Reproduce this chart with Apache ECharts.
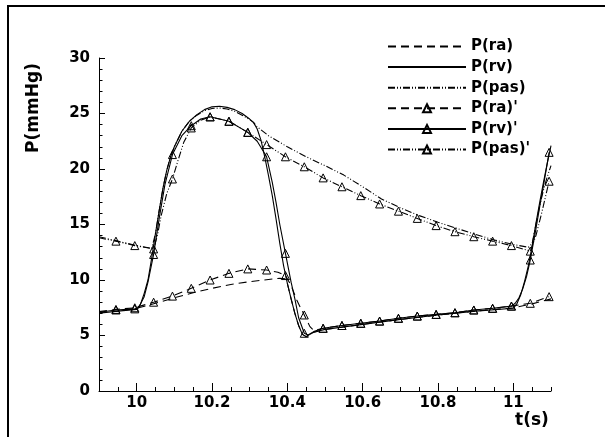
<!DOCTYPE html>
<html><head><meta charset="utf-8">
<script src="https://cdn.jsdelivr.net/npm/echarts@6/dist/echarts.min.js"></script>
<style>html,body{margin:0;padding:0;background:#fff}#c{width:605px;height:437px}</style>
</head><body><div id="c"></div>
<script>
// ---- data ----
const xTickLabels = [10, 10.2, 10.4, 10.6, 10.8, 11];
const seriesNames = ['P(ra)', 'P(rv)', 'P(pas)', "P(ra)'", "P(rv)'", "P(pas)'"];
// output times at which the primed (model) curves carry a triangle marker
const markerTimes = [9.945, 9.995, 10.045, 10.095, 10.145, 10.195, 10.245, 10.295, 10.345, 10.395,
  10.445, 10.495, 10.545, 10.595, 10.645, 10.695, 10.745, 10.795, 10.845, 10.895, 10.945, 10.995, 11.045, 11.095];

const ra = [[9.9,7.05],[9.95,7.2],[10.0,7.45],[10.05,7.9],[10.1,8.4],[10.15,8.85],[10.2,9.25],[10.25,9.6],
  [10.3,9.85],[10.35,10.05],[10.38,10.15],[10.395,10.1],[10.4,9.7],[10.41,8.3],[10.42,7.0],[10.43,5.9],
  [10.44,5.1],[10.45,4.9],[10.46,5.1],[10.47,5.3],[10.5,5.55],[10.6,6.0],[10.7,6.45],[10.8,6.85],
  [10.9,7.2],[11.0,7.5],[11.05,7.85],[11.1,8.3]];

const rv = [[9.9,7.0],[9.95,7.2],[10.0,7.35],[10.01,7.8],[10.02,8.8],[10.03,10.0],[10.04,12.0],[10.05,14.2],
  [10.06,16.3],[10.07,18.3],[10.08,19.9],[10.09,21.1],[10.1,22.0],[10.12,23.4],[10.14,24.3],[10.16,24.9],
  [10.18,25.35],[10.2,25.6],[10.22,25.65],[10.24,25.55],[10.26,25.35],[10.28,25.0],[10.3,24.5],[10.31,24.2],
  [10.32,23.6],[10.33,22.6],[10.34,21.1],[10.35,19.4],[10.36,17.6],[10.37,15.5],[10.38,13.3],[10.39,11.3],
  [10.4,9.7],[10.41,8.3],[10.42,7.0],[10.43,5.9],[10.44,5.1],[10.45,4.9],[10.46,5.1],[10.47,5.3],
  [10.5,5.55],[10.6,6.0],[10.7,6.45],[10.8,6.85],[10.9,7.2],[11.0,7.45],[11.01,7.9],[11.02,8.7],
  [11.03,9.9],[11.04,11.3],[11.05,13.1],[11.06,15.1],[11.07,17.0],[11.08,18.8],[11.09,20.5],[11.1,22.1]];

const pas = [[9.9,13.9],[9.95,13.5],[10.0,13.1],[10.04,12.85],[10.045,12.95],[10.05,14.2],[10.06,16.3],
  [10.07,18.3],[10.08,19.9],[10.09,21.1],[10.1,22.0],[10.12,23.4],[10.14,24.3],[10.16,24.85],[10.18,25.25],
  [10.2,25.45],[10.22,25.5],[10.24,25.4],[10.26,25.2],[10.28,24.85],[10.3,24.45],[10.31,24.2],[10.32,23.8],
  [10.35,23.0],[10.4,22.0],[10.45,21.1],[10.5,20.3],[10.55,19.45],[10.6,18.4],[10.65,17.3],[10.7,16.5],
  [10.75,15.8],[10.8,15.2],[10.85,14.65],[10.9,14.1],[10.95,13.6],[11.0,13.2],[11.04,12.95],[11.05,13.3],
  [11.06,15.0],[11.07,16.7],[11.08,18.1],[11.09,19.3],[11.1,20.3]];

const raPrime = [[9.9,7.15],[9.945,7.35],[9.995,7.5],[10.045,8.0],[10.095,8.55],[10.145,9.25],[10.195,10.0],
  [10.245,10.6],[10.295,11.0],[10.345,10.9],[10.375,10.7],[10.395,10.4],[10.41,9.5],[10.425,8.2],
  [10.435,7.5],[10.445,6.85],[10.46,5.8],[10.47,5.45],[10.495,5.65],[10.545,5.9],[10.595,6.1],[10.645,6.3],
  [10.695,6.55],[10.745,6.75],[10.795,6.9],[10.845,7.05],[10.895,7.3],[10.945,7.45],[10.995,7.65],
  [11.045,7.9],[11.095,8.5]];

const rvPrime = [[9.9,7.1],[9.945,7.3],[9.995,7.4],[10.005,7.5],[10.02,8.5],[10.03,9.8],[10.045,12.3],
  [10.06,15.6],[10.075,18.6],[10.095,21.3],[10.12,23.0],[10.145,23.9],[10.17,24.5],[10.195,24.7],
  [10.245,24.3],[10.295,23.3],[10.32,22.5],[10.345,21.1],[10.36,18.8],[10.37,17.0],[10.38,15.0],
  [10.395,12.4],[10.41,9.8],[10.42,8.3],[10.43,6.6],[10.445,5.2],[10.455,5.05],[10.47,5.35],[10.495,5.65],
  [10.545,5.9],[10.595,6.1],[10.645,6.3],[10.695,6.55],[10.745,6.75],[10.795,6.9],[10.845,7.05],
  [10.895,7.3],[10.945,7.45],[10.995,7.65],[11.005,7.9],[11.015,8.4],[11.025,9.2],[11.035,10.3],
  [11.045,11.8],[11.06,14.6],[11.07,16.6],[11.08,18.5],[11.095,21.5]];

const pasPrime = [[9.9,13.8],[9.945,13.5],[9.995,13.1],[10.045,12.8],[10.055,14.0],[10.065,15.8],[10.08,17.8],
  [10.095,19.1],[10.11,20.8],[10.125,22.4],[10.145,23.7],[10.17,24.4],[10.195,24.7],[10.245,24.3],
  [10.295,23.3],[10.345,22.2],[10.395,21.1],[10.445,20.2],[10.495,19.2],[10.545,18.4],[10.595,17.6],
  [10.645,16.85],[10.695,16.2],[10.745,15.55],[10.795,14.9],[10.845,14.35],[10.895,13.9],[10.945,13.5],
  [10.995,13.1],[11.045,12.6],[11.06,14.0],[11.075,16.0],[11.095,18.9]];

// ---- chart ----
const FONT = 'DejaVu Sans';
const isMarker = t => markerTimes.some(m => Math.abs(m - t) < 1e-6);
const withMarkers = arr => arr.map(([t, p]) => isMarker(t) ? [t, p] : { value: [t, p], symbol: 'none' });

const dashRa = [8, 5];
const dashPas = [7, 2, 1, 2, 1, 2];

function plain(name, data, dash) {
  return {
    name, type: 'line', data, symbol: 'none', xAxisIndex: 0, yAxisIndex: 0,
    lineStyle: { color: '#000', width: 1.1, type: dash },
    itemStyle: { color: 'rgba(0,0,0,0)', borderColor: 'rgba(0,0,0,0)', borderWidth: 0 },
    silent: true, animation: false, emphasis: { disabled: true }
  };
}
function marked(name, data, dash) {
  return {
    name, type: 'line', data: withMarkers(data), symbol: 'triangle', symbolSize: 8,
    showSymbol: true, showAllSymbol: true, xAxisIndex: 0, yAxisIndex: 0,
    lineStyle: { color: '#000', width: 1.1, type: dash },
    itemStyle: { color: 'rgba(255,255,255,0)', borderColor: '#000', borderWidth: 1 },
    silent: true, animation: false, emphasis: { disabled: true }
  };
}

const labelStyle = { fontFamily: FONT, fontWeight: 'bold', fontSize: 15, color: '#000' };

const chart = echarts.init(document.getElementById('c'), null, { renderer: 'canvas' });
chart.setOption({
  backgroundColor: '#fff',
  animation: false,
  grid: { left: 99, right: 54, top: 58, bottom: 46, containLabel: false },
  legend: {
    data: seriesNames, orient: 'vertical', left: 382, top: 34,
    itemWidth: 78, itemHeight: 10, itemGap: 5.6,
    textStyle: { fontFamily: FONT, fontWeight: 'bold', fontSize: 15, color: '#000' },
    selectedMode: false
  },
  xAxis: [{
    type: 'value', min: 9.9, max: 11.1, interval: 0.05, position: 'bottom',
    axisLine: { show: true, onZero: false, lineStyle: { color: '#000', width: 1 } },
    axisTick: { show: true, inside: true, length: 4, lineStyle: { color: '#000', width: 1 } },
    axisLabel: Object.assign({ customValues: xTickLabels, margin: 5, formatter: v => String(+v.toFixed(1)) }, labelStyle),
    splitLine: { show: false }
  }, {
    type: 'value', min: 9.9, max: 11.1, position: 'bottom', offset: 0,
    axisLine: { show: false },
    axisTick: { show: true, inside: true, length: 8, customValues: xTickLabels, lineStyle: { color: '#000', width: 1 } },
    axisLabel: { show: false }, splitLine: { show: false }
  }],
  yAxis: {
    type: 'value', min: 0, max: 30, interval: 5,
    axisLine: { show: true, onZero: false, lineStyle: { color: '#000', width: 1 } },
    axisTick: { show: true, inside: true, length: 6, lineStyle: { color: '#000', width: 1 } },
    minorTick: { show: true, splitNumber: 5, length: 3.5, lineStyle: { color: '#000', width: 1 } },
    axisLabel: Object.assign({ margin: 9 }, labelStyle),
    splitLine: { show: false }, minorSplitLine: { show: false }
  },
  graphic: [
    { type: 'rect', shape: { x: 8, y: 6, width: 640, height: 480 }, style: { fill: 'none', stroke: '#000', lineWidth: 2 }, silent: true },
    { type: 'text', x: 34, y: 108, rotation: Math.PI / 2,
      style: { text: 'P(mmHg)', fontFamily: FONT, fontWeight: 'bold', fontSize: 17, fill: '#000', align: 'center', verticalAlign: 'middle' } },
    { type: 'text', x: 532, y: 421,
      style: { text: 't(s)', fontFamily: FONT, fontWeight: 'bold', fontSize: 17, fill: '#000', align: 'center', verticalAlign: 'middle' } }
  ],
  series: [
    plain(seriesNames[0], ra, dashRa),
    plain(seriesNames[1], rv, 'solid'),
    plain(seriesNames[2], pas, dashPas),
    marked(seriesNames[3], raPrime, dashRa),
    marked(seriesNames[4], rvPrime, 'solid'),
    marked(seriesNames[5], pasPrime, dashPas)
  ]
});
</script>
</body></html>
